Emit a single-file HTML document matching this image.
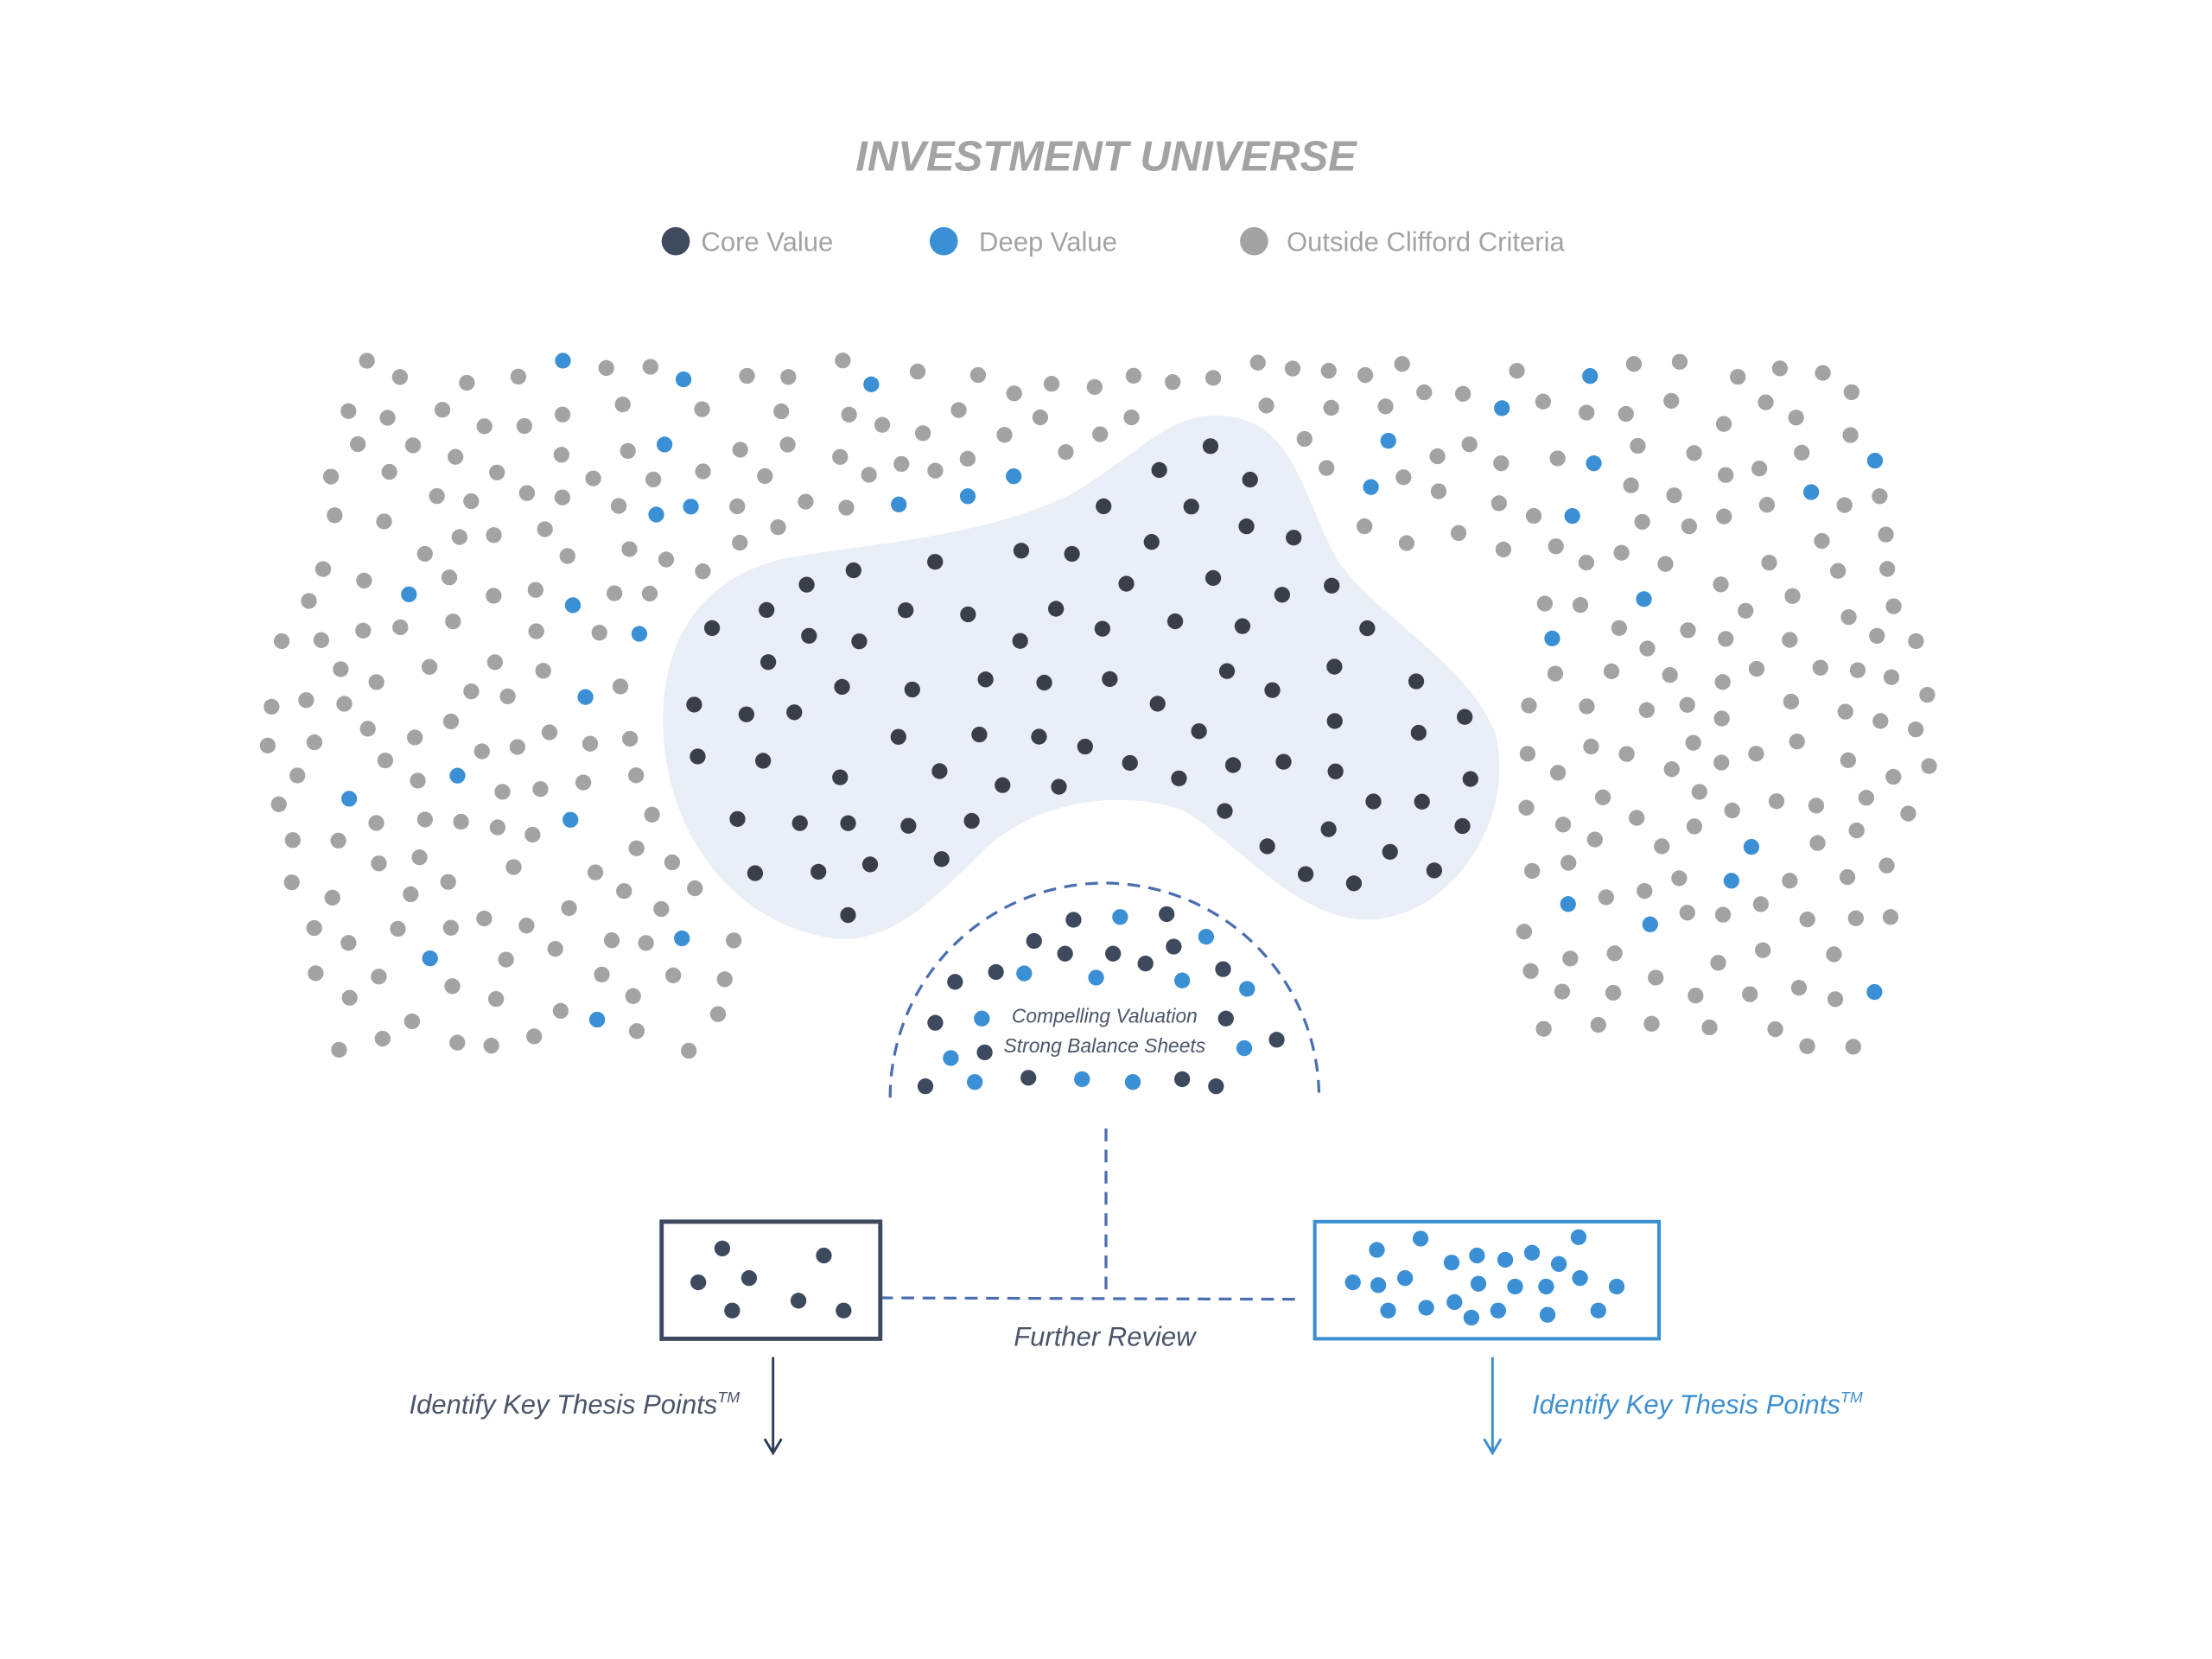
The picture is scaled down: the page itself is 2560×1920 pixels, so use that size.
<!DOCTYPE html>
<html><head><meta charset="utf-8"><style>
html,body{margin:0;padding:0;background:#fff;}
svg{display:block;}
text{font-family:"Liberation Sans",sans-serif;}
</style></head><body>
<svg id="s" width="2560" height="1920" viewBox="0 0 1568 1176" xmlns="http://www.w3.org/2000/svg">
<rect width="1568" height="1176" fill="#fff"/>
<text x="784" y="121" text-anchor="middle" font-size="30" font-weight="bold" font-style="italic" fill="#a3a3a3">INVESTMENT UNIVERSE</text>
<circle cx="479" cy="171" r="10" fill="#3f4a5f"/><text x="497" y="178" font-size="19" fill="#a3a3a3">Core Value</text>
<circle cx="669" cy="171" r="10" fill="#3b8fd4"/><text x="694" y="178" font-size="19" fill="#a3a3a3">Deep Value</text>
<circle cx="889" cy="171" r="10" fill="#a3a3a3"/><text x="912" y="178" font-size="19" fill="#a3a3a3">Outside Clifford Criteria</text>
<path id="blob" d="M 560,395 C 620,385 700,380 760,350 C 810,320 830,290 870,295 C 920,300 925,360 950,400 C 980,440 1040,470 1060,520 C 1075,580 1030,650 970,652 C 920,652 880,600 840,575 C 800,560 740,565 700,600 C 660,640 630,670 590,665 C 520,655 470,590 470,510 C 470,440 510,405 560,395 Z" fill="#eaeef7"/>
<g id="dots"></g>
<path d="M 631,778 A 152,152 0 0 1 935,778" fill="none" stroke="#4a6fb0" stroke-width="2" stroke-dasharray="9,6"/>
<g id="semi"></g>
<text x="783" y="725" text-anchor="middle" font-size="14" font-style="italic" fill="#4a5568">Compelling Valuation</text>
<text x="783" y="746" text-anchor="middle" font-size="14" font-style="italic" fill="#4a5568">Strong Balance Sheets</text>
<line x1="784" y1="800" x2="784" y2="920" stroke="#4a6fb0" stroke-width="2" stroke-dasharray="9,6"/>
<line x1="624" y1="920" x2="918" y2="921" stroke="#4a6fb0" stroke-width="2" stroke-dasharray="9,6"/>
<rect x="469" y="866" width="155" height="83" fill="none" stroke="#3d4a5e" stroke-width="3"/>
<rect x="932" y="866" width="244" height="83" fill="none" stroke="#3e8fd0" stroke-width="2.5"/>
<g id="boxdots"></g>
<text x="783" y="954" text-anchor="middle" font-size="19" font-style="italic" fill="#4a5568">Further Review</text>
<line x1="548" y1="962" x2="548" y2="1030" stroke="#2d3e55" stroke-width="1.8"/>
<path d="M 542,1020 L 548,1030 L 554,1020" fill="none" stroke="#2d3e55" stroke-width="1.8"/>
<line x1="1058" y1="962" x2="1058" y2="1030" stroke="#3e8fd0" stroke-width="1.8"/>
<path d="M 1052,1020 L 1058,1030 L 1064,1020" fill="none" stroke="#3e8fd0" stroke-width="1.8"/>
<text x="290" y="1002" font-size="19" font-style="italic" fill="#4a5568">Identify Key Thesis Points<tspan font-size="11" dy="-8">TM</tspan></text>
<text x="1086" y="1002" font-size="19" font-style="italic" fill="#3e8fd0">Identify Key Thesis Points<tspan font-size="11" dy="-8">TM</tspan></text>
</svg>
<script>
(function(){
var NS="http://www.w3.org/2000/svg";
var seed=12345;function rnd(){seed=(seed*1103515245+12345)%2147483648;return seed/2147483648;}
function dot(g,x,y,c,r){var e=document.createElementNS(NS,"circle");e.setAttribute("cx",x);e.setAttribute("cy",y);e.setAttribute("r",r||5.6);e.setAttribute("fill",c);g.appendChild(e);}
var blob=document.getElementById("blob");var g=document.getElementById("dots");
function inBlob(x,y,m){try{var p=new DOMPoint(x,y);if(blob.isPointInFill(p))return true;if(m){for(var a=0;a<8;a++){var q=new DOMPoint(x+m*Math.cos(a*0.785),y+m*Math.sin(a*0.785));if(blob.isPointInFill(q))return true;}}return false;}catch(e){return false;}}
var pts=[];
function far(x,y,d){for(var i=0;i<pts.length;i++){var dx=pts[i][0]-x,dy=pts[i][1]-y;if(dx*dx+dy*dy<d*d)return false;}return true;}
for(var t=0;t<20000;t++){var x=480+rnd()*580,y=300+rnd()*360;if(!inBlob(x,y,0))continue;
 var ok=true;for(var a=0;a<8;a++){if(!blob.isPointInFill(new DOMPoint(x+14*Math.cos(a*0.785),y+14*Math.sin(a*0.785)))){ok=false;break;}}
 if(!ok)continue;if(!far(x,y,33))continue;pts.push([x,y]);dot(g,x,y,"#3a3f47");}
function inRegion(x,y){
 if(y<255||y>745)return false;
 if(x<178||x>1378)return false;
 var dxs=x-783,dys=y-778;if(dxs*dxs+dys*dys<175*175)return false;
 if(x>540&&x<1020&&y>390)return false;
 if(y>390&&x>525&&x<1080)return false;
 var lx=178+(Math.abs(y-520)/260)*70; if(x<lx)return false;
 var rx=1378-(Math.abs(y-520)/240)*60; if(x>rx)return false;
 if(inBlob(x,y,16))return false;
 return true;}
for(var t=0;t<60000;t++){var x=178+rnd()*1200,y=255+rnd()*490;if(!inRegion(x,y))continue;if(!far(x,y,24))continue;pts.push([x,y]);dot(g,x,y,rnd()<0.08?"#3b8fd4":"#a3a3a3");}
var sg=document.getElementById("semi");var D="#3d4a5e",B="#3b8fd4";
var sd=[[761,652,D],[794,650,B],[827,648,D],[855,664,B],[733,667,D],[755,676,D],[789,676,D],[812,683,D],[832,671,D],[677,696,D],[706,689,D],[726,690,B],[777,693,B],[838,695,B],[867,687,D],[884,701,B],[663,725,D],[696,722,B],[869,722,D],[674,750,B],[698,746,D],[882,743,B],[905,737,D],[656,770,D],[691,767,B],[729,764,D],[767,765,B],[803,767,B],[838,765,D],[862,770,D]];
sd.forEach(function(p){dot(sg,p[0],p[1],p[2]);});
var bg=document.getElementById("boxdots");
[[512,885],[584,890],[495,909],[531,906],[519,929],[566,922],[598,929]].forEach(function(p){dot(bg,p[0],p[1],D);});
[[976,886],[1007,878],[1119,877],[1029,895],[1047,890],[1067,893],[1086,888],[1105,896],[959,909],[977,911],[996,906],[1048,910],[1074,912],[1096,912],[1120,906],[1146,912],[984,929],[1011,927],[1031,923],[1043,934],[1062,929],[1097,932],[1133,929]].forEach(function(p){dot(bg,p[0],p[1],B);});
})();
</script>
</body></html>
